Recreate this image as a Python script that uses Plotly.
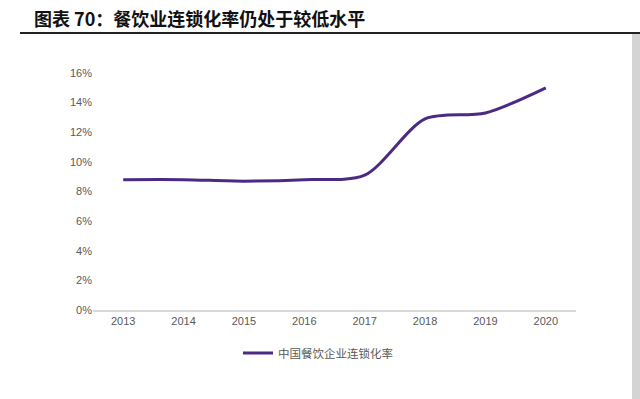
import plotly.graph_objects as go

years = ["2013", "2014", "2015", "2016", "2017", "2018", "2019", "2020"]
chain_rate = [8.8, 8.8, 8.7, 8.8, 9.1, 12.9, 13.3, 15.0]
y_ticks = [0, 2, 4, 6, 8, 10, 12, 14, 16]
y_tick_labels = ["0%", "2%", "4%", "6%", "8%", "10%", "12%", "14%", "16%"]
series_name = "中国餐饮企业连锁化率"
title_text = "图表 70：餐饮业连锁化率仍处于较低水平"

W, H = 640, 399
L, R, T, B = 93, 64, 73, 89
pw, ph = W - L - R, H - T - B

def px_x(x):
    return (x - L) / pw

def px_y(y):
    return (H - B - y) / ph

fig = go.Figure()
fig.add_trace(go.Scatter(
    x=years, y=chain_rate, mode="lines", name=series_name,
    line=dict(color="#4b2a84", width=3, shape="spline", smoothing=0.8),
))

fig.update_layout(
    width=W, height=H,
    margin=dict(l=L, r=R, t=T, b=B),
    paper_bgcolor="white", plot_bgcolor="white",
    font=dict(family="Liberation Sans, Arial, sans-serif", color="#595959", size=11),
    xaxis=dict(type="category", range=[-0.5, 7.5], showgrid=False, zeroline=False,
               showline=True, linecolor="#d9d9d9", linewidth=1.5, ticks="",
               tickfont=dict(size=11, color="#595959")),
    yaxis=dict(range=[0, 16], tickvals=y_ticks, ticktext=y_tick_labels,
               showgrid=False, zeroline=False, showline=False, ticks="",
               tickfont=dict(size=11, color="#595959")),
    showlegend=True,
    legend=dict(orientation="h", x=px_x(238), y=px_y(353), xanchor="left", yanchor="middle",
                font=dict(family="Noto Sans CJK SC", size=11.5, color="#595959"),
                bgcolor="rgba(0,0,0,0)"),
    shapes=[
        dict(type="line", xref="paper", yref="paper", x0=px_x(20), x1=px_x(640),
             y0=px_y(33), y1=px_y(33), line=dict(color="#222222", width=2)),
        dict(type="rect", xref="paper", yref="paper", x0=px_x(632), x1=px_x(640),
             y0=px_y(399), y1=px_y(34), fillcolor="#d4d4d4", line=dict(width=0),
             layer="above"),
    ],
    annotations=[
        dict(text="<b>" + title_text + "</b>", xref="paper", yref="paper",
             x=px_x(32), y=px_y(18), xanchor="left", yanchor="middle", showarrow=False,
             font=dict(family="Noto Sans CJK SC", size=18, color="#111111")),
    ],
)

fig.write_html("out.html", config={"displayModeBar": False},
               post_script="document.body.style.margin='0';document.body.style.overflow='hidden';")
